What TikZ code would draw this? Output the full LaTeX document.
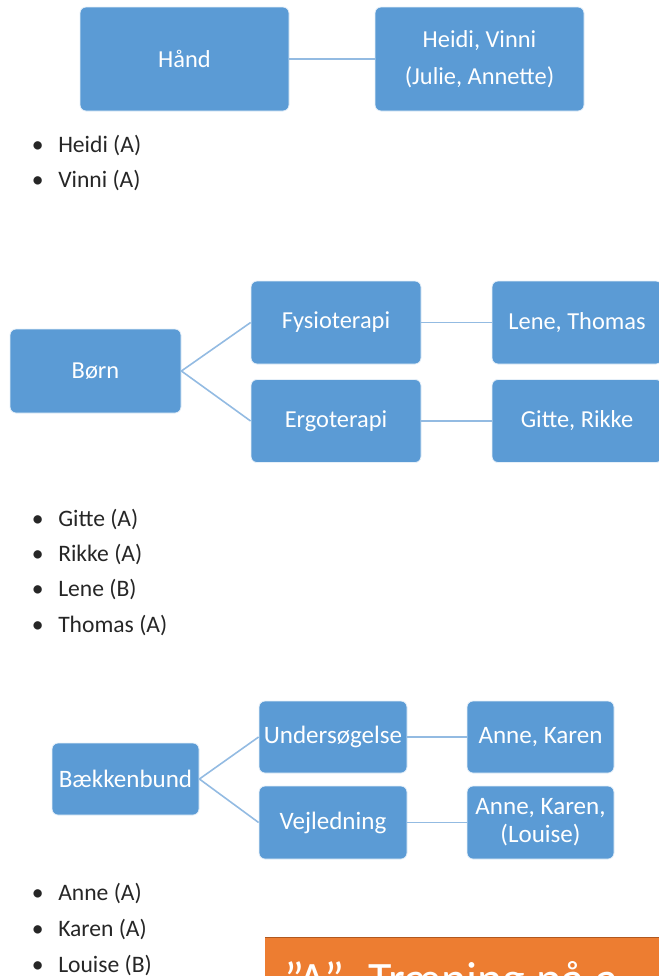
\documentclass[tikz,border=0pt]{standalone}
\usepackage{fontspec}
\setmainfont{Carlito}
\definecolor{boxblue}{HTML}{5B9BD5}
\definecolor{linkblue}{HTML}{93BBE2}
\definecolor{orng}{HTML}{ED7D31}
\definecolor{orngdark}{HTML}{B0581F}
\begin{document}
\begin{tikzpicture}[x=0.75pt,y=-0.75pt,
  box/.style={draw=white!85!boxblue,line width=0.6pt,fill=boxblue,rounded corners=4.5pt,
    text=white,font=\fontsize{18.3}{22}\selectfont,align=center,inner sep=0pt},
  boxl/.style={box,font=\fontsize{18.8}{21}\selectfont},
  conn/.style={draw=linkblue,line width=1.2pt},
  item/.style={anchor=west,inner sep=0pt,font=\fontsize{17.7}{20}\selectfont,text=black!85}]
\useasboundingbox (0,0) rectangle (659,976);
\clip (0,0) rectangle (659,976);
% Diagram 1
\node[box,minimum width=156.75pt,minimum height=78pt] (hand) at (184.5,59) {Hånd};
\node[box,minimum width=156.75pt,minimum height=78pt] (heidi) at (479.5,59) {Heidi, Vinni\\[5.75pt](Julie, Annette)};
\draw[conn] (hand.east) -- (heidi.west);
\node[item] (b1) at (58,145) {\llap{•\hspace{11pt}}Heidi (A)};
\node[item] (b2) at (58,180) {\llap{•\hspace{11pt}}Vinni (A)};
% Diagram 2
\node[box,minimum width=128.25pt,minimum height=63pt] (born) at (95.5,371) {Børn};
\node[box,minimum width=127.5pt,minimum height=62.25pt] (fys) at (336,322.5) {Fysioterapi};
\node[box,minimum width=127.5pt,minimum height=62.25pt] (ergo) at (336,421) {Ergoterapi};
\node[box,minimum width=127.5pt,minimum height=62.25pt] (lene) at (577,322.5) {Lene, Thomas};
\node[box,minimum width=127.5pt,minimum height=62.25pt] (gitte) at (577,421) {Gitte, Rikke};
\draw[conn] (born.east) -- (fys.west);
\draw[conn] (born.east) -- (ergo.west);
\draw[conn] (fys.east) -- (lene.west);
\draw[conn] (ergo.east) -- (gitte.west);
\node[item] (b3) at (58,519) {\llap{•\hspace{11pt}}Gitte (A)};
\node[item] (b4) at (58,554) {\llap{•\hspace{11pt}}Rikke (A)};
\node[item] (b5) at (58,589) {\llap{•\hspace{11pt}}Lene (B)};
\node[item] (b6) at (58,625) {\llap{•\hspace{11pt}}Thomas (A)};
% Diagram 3
\node[boxl,minimum width=110.25pt,minimum height=54pt] (baek) at (125.5,779) {Bækkenbund};
\node[boxl,minimum width=111pt,minimum height=54pt] (under) at (333,737) {Undersøgelse};
\node[boxl,minimum width=111pt,minimum height=54.75pt] (vejl) at (333,822.5) {Vejledning};
\node[boxl,minimum width=110.25pt,minimum height=54pt] (ak1) at (540.5,737) {Anne, Karen};
\node[boxl,minimum width=110.25pt,minimum height=54.75pt] (ak2) at (540.5,822.5) {Anne, Karen,\\(Louise)};
\draw[conn] (baek.east) -- (under.west);
\draw[conn] (baek.east) -- (vejl.west);
\draw[conn] (under.east) -- (ak1.west);
\draw[conn] (vejl.east) -- (ak2.west);
\node[item] (b7) at (58,893) {\llap{•\hspace{11pt}}Anne (A)};
\node[item] (b8) at (58,929) {\llap{•\hspace{11pt}}Karen (A)};
\node[item] (b9) at (58,965) {\llap{•\hspace{11pt}}Louise (B)};
% Orange banner
\fill[orng] (265,937) rectangle (700,1010);
\draw[orngdark,line width=1.2pt] (265,937.5) -- (700,937.5);
\node[anchor=base west,inner sep=0pt,text=white,font=\fontsize{36}{40}\selectfont] (banner) at (284,995) {”A”–Træning på a};
\end{tikzpicture}
\end{document}
